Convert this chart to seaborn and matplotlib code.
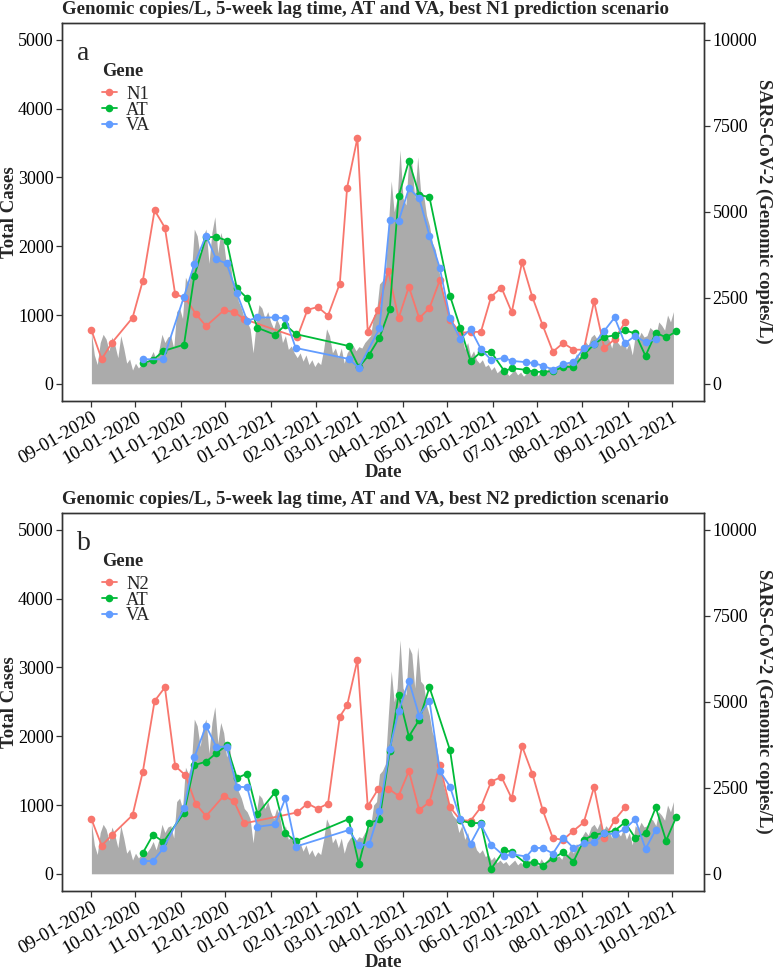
"""
Daily cases vs. wastewater SARS-CoV-2 genomic copies, two panels (N1 / N2 scenarios)
"""
import pandas as pd
import matplotlib
matplotlib.use("Agg")
import matplotlib.pyplot as plt
import matplotlib.dates as mdates
from matplotlib.lines import Line2D
import seaborn as sns


sns.set_theme(style="ticks")
plt.rcParams['font.family'] = ['Liberation Serif', 'DejaVu Serif']

START = pd.Timestamp("2020-09-01")

# Total daily cases, read every second day starting 2020-09-01
total_cases = [
    750, 420, 280, 600, 720, 650, 480, 680, 560, 380,
    700, 520, 300, 360, 200, 300, 230, 280, 250, 320,
    380, 470, 350, 500, 720, 600, 680, 700, 520, 1050,
    1100, 950, 1550, 1450, 1600, 2250, 2150, 1850, 2150, 2250,
    1750, 2200, 2430, 1900, 2200, 2050, 1700, 1850, 1500, 1450,
    1200, 1100, 950, 900, 800, 450, 850, 1150, 1100, 950,
    1050, 900, 800, 950, 850, 600, 700, 500, 550, 450,
    380, 450, 330, 420, 280, 350, 250, 320, 280, 500,
    800, 700, 450, 520, 380, 520, 300, 450, 520, 560,
    480, 540, 520, 600, 650, 700, 1000, 1050, 1450, 1500,
    1600, 2300, 2950, 2500, 2700, 3400, 2700, 2600, 3300, 3200,
    2700, 3300, 2800, 2750, 2450, 2300, 2050, 1950, 1700, 1450,
    1250, 1100, 950, 850, 800, 600, 700, 500, 600, 400,
    480, 350, 300, 350, 250, 280, 200, 250, 160, 200,
    150, 180, 120, 160, 200, 130, 170, 110, 150, 200,
    130, 180, 120, 220, 150, 200, 250, 180, 240, 260,
    210, 320, 280, 350, 300, 440, 380, 550, 620, 560,
    680, 720, 650, 750, 600, 700, 650, 520, 700, 600,
    550, 650, 500, 600, 420, 700, 650, 750, 680, 700,
    820, 780, 700, 900, 850, 780, 1000, 900, 1050,
]

# Wastewater sampling days (days after 2020-09-01)
n_days = [0, 7, 14, 28, 35, 43, 50, 57, 64, 71, 78, 90, 97, 104, 140, 147,
          154, 161, 169, 174, 181, 188, 195, 202, 209, 216, 223, 230, 237,
          244, 251, 258, 265, 272, 279, 286, 293, 300, 307, 314, 321, 328,
          335, 342, 349, 356, 363]
at_days = [35, 42, 49, 63, 70, 78, 85, 92, 99, 106, 113, 125, 132, 139, 175,
           182, 189, 196, 203, 209, 216, 223, 230, 244, 251, 258, 265, 272,
           281, 286, 296, 301, 307, 314, 321, 328, 335, 342, 349, 356, 363,
           370, 377, 384, 391, 398]
va_days_a = [35, 49, 63, 70, 78, 85, 92, 99, 106, 113, 125, 132, 139, 175,
             182, 196, 203, 209, 216, 223, 230, 237, 244, 251, 258, 265, 272,
             281, 286, 296, 301, 307, 314, 321, 328, 335, 342, 349, 356, 363,
             370, 377, 384]
va_days_b = [35, 42, 49, 63, 70, 78, 85, 92, 99, 106, 113, 125, 132, 139,
             175, 182, 189, 196, 203, 209, 216, 223, 230, 237, 244, 251, 258,
             265, 272, 281, 286, 296, 301, 307, 314, 321, 328, 335, 342, 349,
             356, 363, 370, 377, 384]

# Genomic copies/L - panel a
n1_copies = [1562, 720, 1196, 1920, 3000, 5046, 4540, 2606, 2496, 2034,
             1678, 2132, 2092, 1880, 1350, 2150, 2234, 1984, 2912, 5708,
             7150, 1520, 2140, 3278, 1910, 2820, 1910, 2200, 3010, 1860,
             1480, 1510, 1510, 2536, 2796, 2082, 3538, 2526, 1706, 934,
             1186, 992, 992, 2400, 1032, 1302, 1784]
at_copies_a = [598, 694, 954, 1138, 3132, 4262, 4272, 4166, 2776, 2488,
               1628, 1426, 1716, 1446, 1100, 482, 848, 1340, 2170, 5448,
               6480, 5496, 5428, 2554, 1630, 656, 926, 926, 366, 454,
               404, 348, 348, 366, 492, 492, 838, 1148, 1360, 1408,
               1552, 1466, 810, 1484, 1350, 1524]
va_copies_a = [714, 714, 2536, 3470, 4310, 3616, 3500, 2632, 1832, 1928,
               1928, 1910, 1042, 724, 472, 1610, 4752, 4724, 5680, 5400,
               4310, 3376, 1910, 1302, 1590, 1012, 694, 752, 666, 628,
               598, 530, 414, 570, 636, 1032, 1166, 1542, 1928, 1176,
               1398, 1206, 1292]

# Genomic copies/L - panel b
n2_copies = [1590, 820, 1128, 1706, 2970, 5024, 5420, 3134, 2864, 2034,
             1678, 2266, 2112, 1466, 1784, 2044, 1890, 2044, 4570, 4898,
             6220, 1966, 2458, 2478, 2266, 2988, 1852, 2092, 3172, 1938,
             1562, 1542, 1938, 2680, 2816, 2190, 3712, 2912, 1860, 1032,
             992, 1252, 1496, 2526, 1032, 1562, 1928]
at_copies_b = [608, 1138, 926, 1774, 3162, 3260, 3508, 3732, 2786, 2912,
               1736, 2372, 1186, 946, 1590, 286, 1476, 1580, 3566, 5206,
               3992, 4474, 5424, 3596, 1552, 1476, 1476, 144, 704, 626,
               290, 356, 240, 454, 626, 356, 984, 1138, 1186, 1254,
               1496, 1042, 1186, 1928, 964, 1658]
va_copies_b = [366, 376, 742, 1900, 3384, 4300, 3694, 3694, 2536, 2516,
               1368, 1436, 2198, 790, 1272, 830, 858, 1822, 3640, 4724,
               5612, 4600, 5034, 2988, 2536, 1590, 878, 1436, 848, 512,
               570, 502, 752, 752, 588, 1050, 752, 888, 916, 1176,
               1156, 1302, 1590, 724, 1282]

COLORS = ['#F8766D', '#00BA38', '#619CFF']
AREA_COLOR = '#ABABAB'
INK = '#333333'
FIG_W, FIG_H = 773, 971
LEFT_PX, RIGHT_PX = 62, 704.3


def to_dates(days):
    return START + pd.to_timedelta(days, unit="D")


def build_frame(series):
    """Long-format frame: date, copies, gene"""
    parts = []
    for gene, days, vals in series:
        parts.append(pd.DataFrame({'date': to_dates(days), 'copies': vals, 'gene': gene}))
    return pd.concat(parts, ignore_index=True)


def draw_panel(fig, top_px, bottom_px, title, letter, series):
    """Draw one panel: grey case area (left axis) + gene lines (right axis)"""
    height_px = bottom_px - top_px
    width_px = RIGHT_PX - LEFT_PX
    rect = [LEFT_PX / FIG_W, 1 - bottom_px / FIG_H, width_px / FIG_W, height_px / FIG_H]
    ax = fig.add_axes(rect)

    # pixel offsets (from the axes top-left) -> axes fraction
    fx = lambda px: px / width_px
    fy = lambda px: 1 - px / height_px

    case_dates = pd.date_range(START, periods=len(total_cases), freq="2D")
    ax.fill_between(case_dates, 0, total_cases, color=AREA_COLOR, lw=0)
    ax.set_ylim(-250, 5250)
    ax.set_yticks(range(0, 5001, 1000))
    ax.set_xlim(pd.Timestamp("2020-08-12"), pd.Timestamp("2021-10-23"))

    ax2 = ax.twinx()
    df = build_frame(series)
    genes = [s[0] for s in series]
    sns.lineplot(data=df, x='date', y='copies', hue='gene', hue_order=genes,
                 palette=COLORS, marker='o', markersize=5.5, markeredgewidth=0,
                 linewidth=1.3, errorbar=None, legend=False, ax=ax2)
    ax2.set_ylim(-500, 10500)
    ax2.set_yticks([0, 2500, 5000, 7500, 10000])

    ax.xaxis.set_major_locator(mdates.MonthLocator())
    ax.xaxis.set_major_formatter(mdates.DateFormatter('%m-%d-%Y'))

    for a in (ax, ax2):
        a.tick_params(axis='both', direction='out', length=4, width=0.9,
                      color=INK, labelsize=13, labelcolor='black', pad=2)
        for sp in a.spines.values():
            sp.set_visible(True)
            sp.set_color(INK)
            sp.set_linewidth(1.0)
    ax.tick_params(axis='x', labelsize=13.5)
    for lab in ax.get_xticklabels():
        lab.set_rotation(30)
        lab.set_ha('right')
        lab.set_va('top')
        lab.set_rotation_mode('anchor')

    ax.set_xlabel("Date", fontsize=13.5, fontweight='bold', va='center')
    ax.xaxis.set_label_coords(0.5, -0.19)
    ax.set_ylabel("Total Cases", fontsize=13.5, fontweight='bold', va='center')
    ax.yaxis.set_label_coords(fx(10 - LEFT_PX), 0.5)
    ax2.set_ylabel("SARS-CoV-2 (Genomic copies/L)", fontsize=13.5,
                   fontweight='bold', rotation=270, va='center', ha='center')
    ax2.yaxis.set_label_coords(fx(764 - LEFT_PX), 0.5)

    fig.text(LEFT_PX / FIG_W, 1 - (top_px - 13) / FIG_H, title, ha='left',
             va='center', fontsize=13.6, fontweight='bold')
    ax.text(fx(15), fy(37), letter, transform=ax.transAxes, fontsize=20,
            ha='left', va='baseline')

    # legend: title as a separate text so the gap below it matches
    ax2.text(fx(40), fy(49), "Gene", transform=ax2.transAxes, fontsize=13.3,
             fontweight='bold', ha='left', va='center')
    handles = [Line2D([], [], color=c, marker='o', lw=1.3, ms=5.5,
                      markeredgewidth=0) for c in COLORS]
    ax2.legend(handles, genes, loc='upper left', bbox_to_anchor=(fx(40), fy(63)),
               frameon=False, fontsize=13.3, handlelength=0.8, handletextpad=0.5,
               labelspacing=-0.06, borderpad=0, borderaxespad=0)
    return ax, ax2


fig = plt.figure(figsize=(FIG_W / 100, FIG_H / 100), dpi=100)

draw_panel(fig, 22.7, 401,
           "Genomic copies/L, 5-week lag time, AT and VA, best N1 prediction scenario", "a",
           [('N1', n_days, n1_copies), ('AT', at_days, at_copies_a), ('VA', va_days_a, va_copies_a)])
draw_panel(fig, 512.7, 891,
           "Genomic copies/L, 5-week lag time, AT and VA, best N2 prediction scenario", "b",
           [('N2', n_days, n2_copies), ('AT', at_days, at_copies_b), ('VA', va_days_b, va_copies_b)])

fig.savefig("out.png", dpi=100)
plt.close(fig)
